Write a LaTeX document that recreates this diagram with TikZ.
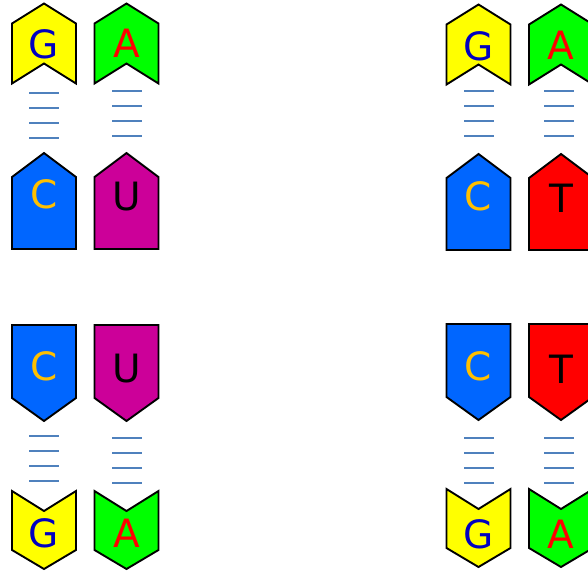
\documentclass[tikz,border=0pt]{standalone}
\usepackage{fontspec}
\setmainfont{DejaVu Sans}

\definecolor{baseyellow}{HTML}{FFFF00}
\definecolor{basegreen}{HTML}{00FF00}
\definecolor{baseblue}{HTML}{0066FF}
\definecolor{basemagenta}{HTML}{CC0099}
\definecolor{basered}{HTML}{FF0000}
\definecolor{letterblue}{HTML}{0000C0}
\definecolor{lettergold}{HTML}{FFC000}
\definecolor{bondblue}{HTML}{4F81BD}

\tikzset{
  base/.style={draw=black, line width=1.9pt, line join=miter},
  letter/.style={anchor=base, inner sep=0pt, font=\fontsize{39}{39}\selectfont},
  bond/.style={draw=bondblue, line width=2pt}
}

% chevron pointing up, pentagon pointing up, pentagon pointing down, chevron pointing down
\newcommand{\chevup}[3]{\draw[base, fill=#3] (#1,#2+20) -- (#1+32,#2) -- (#1+64,#2+20) -- (#1+64,#2+80) -- (#1+32,#2+60) -- (#1,#2+80) -- cycle;}
\newcommand{\pentup}[3]{\draw[base, fill=#3] (#1,#2+24) -- (#1+32,#2) -- (#1+64,#2+24) -- (#1+64,#2+96) -- (#1,#2+96) -- cycle;}
\newcommand{\pentdown}[3]{\draw[base, fill=#3] (#1,#2) -- (#1+64,#2) -- (#1+64,#2+73) -- (#1+32,#2+96) -- (#1,#2+73) -- cycle;}
\newcommand{\chevdown}[3]{\draw[base, fill=#3] (#1,#2) -- (#1+32,#2+20) -- (#1+64,#2) -- (#1+64,#2+59) -- (#1+32,#2+78) -- (#1,#2+59) -- cycle;}
\newcommand{\bondset}[2]{\foreach \k in {0,...,3} \draw[bond] (#1,#2+15*\k) -- (#1+30,#2+15*\k);}

\begin{document}
\begin{tikzpicture}[x=1pt, y=-1pt]
  \useasboundingbox (0,0) rectangle (588,570);

  % top left: G-C and A-U
  \chevup{12}{3.5}{baseyellow}
  \chevup{94.5}{3.5}{basegreen}
  \pentup{12}{153}{baseblue}
  \pentup{94.5}{153}{basemagenta}
  \bondset{29}{93}
  \bondset{112}{91}
  \node[letter, text=letterblue] (G1) at (44,58) {G};
  \node[letter, text=basered] (A1) at (126.5,57) {A};
  \node[letter, text=lettergold] (C1) at (44,208.5) {C};
  \node[letter, text=black] (U1) at (126.5,210) {U};

  % top right: G-C and A-T
  \chevup{446.5}{4.5}{baseyellow}
  \chevup{529}{4.5}{basegreen}
  \pentup{446.5}{154}{baseblue}
  \pentup{529}{154}{basered}
  \bondset{464}{91}
  \bondset{544}{91}
  \node[letter, text=letterblue] (G2) at (478.5,60) {G};
  \node[letter, text=basered] (A2) at (561,59.5) {A};
  \node[letter, text=lettergold] (C2) at (478.5,210) {C};
  \node[letter, text=black] (T2) at (561,212) {T};

  % bottom left: C-G and U-A
  \pentdown{12}{325}{baseblue}
  \pentdown{94.5}{325}{basemagenta}
  \chevdown{12}{491}{baseyellow}
  \chevdown{94.5}{491}{basegreen}
  \bondset{29}{436}
  \bondset{112}{438}
  \node[letter, text=lettergold] (C3) at (44,380.5) {C};
  \node[letter, text=black] (U3) at (126.5,382) {U};
  \node[letter, text=letterblue] (G3) at (44,547) {G};
  \node[letter, text=basered] (A3) at (126.5,547) {A};

  % bottom right: C-G and T-A
  \pentdown{446.5}{324}{baseblue}
  \pentdown{529}{324}{basered}
  \chevdown{446.5}{489}{baseyellow}
  \chevdown{529}{489}{basegreen}
  \bondset{464}{438}
  \bondset{544}{438}
  \node[letter, text=lettergold] (C4) at (478.5,380.5) {C};
  \node[letter, text=black] (T4) at (561,383) {T};
  \node[letter, text=letterblue] (G4) at (478.5,548.5) {G};
  \node[letter, text=basered] (A4) at (561,548.5) {A};
\end{tikzpicture}
\end{document}
